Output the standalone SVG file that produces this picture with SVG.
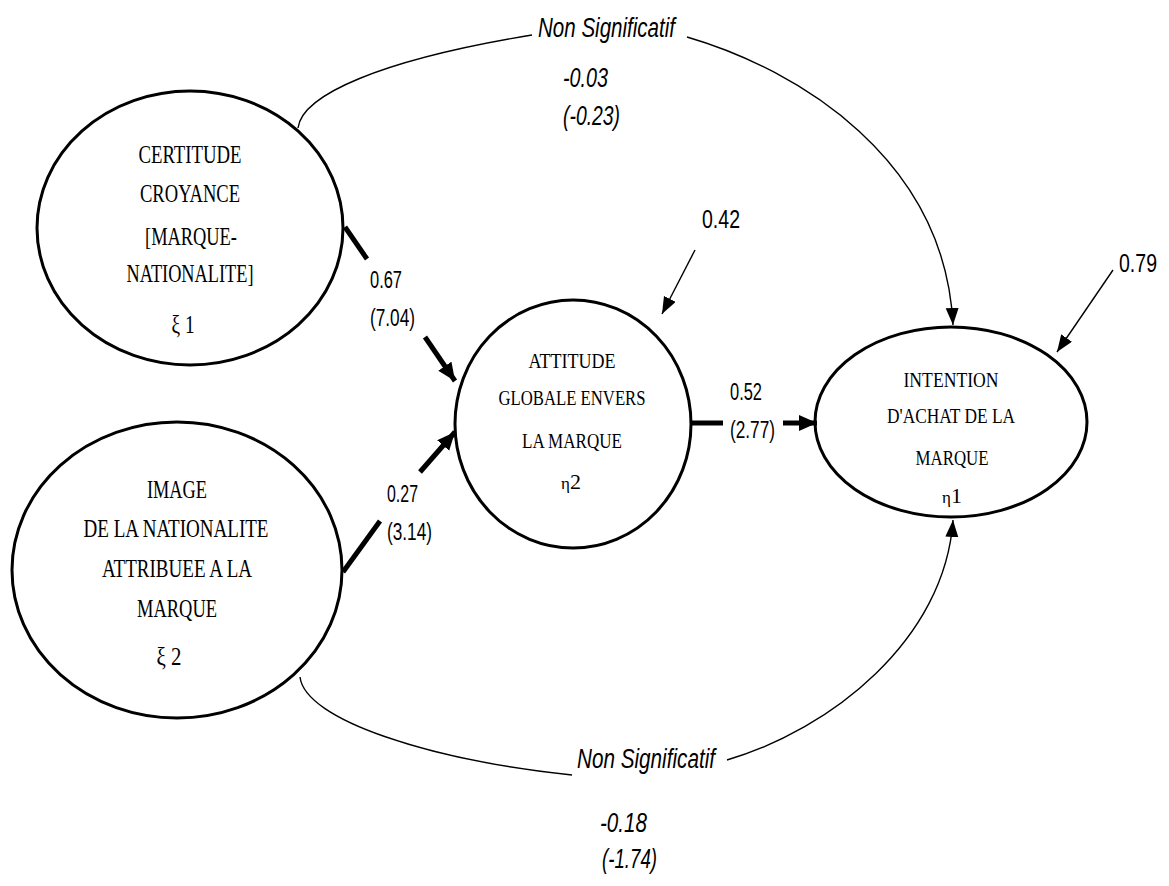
<svg xmlns="http://www.w3.org/2000/svg" width="1169" height="886" viewBox="0 0 1169 886">
<defs>
<style>
.node{fill:none;stroke:#000;stroke-width:3}
.lbl{font-family:"Liberation Serif","Times New Roman",serif;fill:#000}
.n1{font-size:25px}
.n3{font-size:22px}
.num{font-family:"Liberation Sans",Arial,sans-serif;font-size:23px;fill:#000}
.big{font-size:25px}
.it{font-family:"Liberation Sans",Arial,sans-serif;font-style:italic;font-size:27px;fill:#000}
.thick{fill:none;stroke:#000;stroke-width:5}
.thin{fill:none;stroke:#000;stroke-width:1.4}
</style>
<marker id="ah" markerUnits="userSpaceOnUse" markerWidth="20" markerHeight="18" refX="18" refY="8" orient="auto"><path d="M0,0 L18,8 L0,16 Z" fill="#000"/></marker>
<marker id="at" markerUnits="userSpaceOnUse" markerWidth="18" markerHeight="14" refX="17" refY="6.5" orient="auto"><path d="M0,0 L17,6.5 L0,13 Z" fill="#000"/></marker>
</defs>
<rect width="1169" height="886" fill="#fff"/>

<g id="connectors">
<path class="thin" d="M298,128 C302,95 380,60 532,35"/>
<path class="thin" d="M687,37 C800,70 945,160 953,325" marker-end="url(#at)"/>
<path class="thin" d="M300,677 C305,720 430,760 572,775"/>
<path class="thin" d="M727,760 C830,730 945,640 953,520" marker-end="url(#at)"/>
<path class="thick" d="M345,227 L367,259"/>
<path class="thick" d="M425,337 L455,381" marker-end="url(#ah)"/>
<path class="thick" d="M343,572 L380,521"/>
<path class="thick" d="M420,472 L455,432" marker-end="url(#ah)"/>
<path class="thick" d="M692,423 L723,423"/>
<path class="thick" d="M783,423 L817,423" marker-end="url(#ah)"/>
<path class="thin" d="M695,250 L662,314" marker-end="url(#at)"/>
<path class="thin" d="M1113,270 L1057,352" marker-end="url(#at)"/>
</g>

<g id="labels">
<text class="it" x="538" y="37" textLength="137" lengthAdjust="spacingAndGlyphs">Non Significatif</text>
<text class="it" x="563" y="87" textLength="45" lengthAdjust="spacingAndGlyphs">-0.03</text>
<text class="it" x="563" y="125" textLength="57" lengthAdjust="spacingAndGlyphs">(-0.23)</text>
<text class="it" x="577" y="768" textLength="138" lengthAdjust="spacingAndGlyphs">Non Significatif</text>
<text class="it" x="600" y="832" textLength="47" lengthAdjust="spacingAndGlyphs">-0.18</text>
<text class="it" x="602" y="868" textLength="55" lengthAdjust="spacingAndGlyphs">(-1.74)</text>
<text class="num" x="370" y="288" textLength="32" lengthAdjust="spacingAndGlyphs">0.67</text>
<text class="num" x="370" y="326" textLength="45" lengthAdjust="spacingAndGlyphs">(7.04)</text>
<text class="num" x="387" y="502" textLength="31" lengthAdjust="spacingAndGlyphs">0.27</text>
<text class="num" x="387" y="540" textLength="45" lengthAdjust="spacingAndGlyphs">(3.14)</text>
<text class="num" x="730" y="400" textLength="32" lengthAdjust="spacingAndGlyphs">0.52</text>
<text class="num" x="730" y="438" textLength="45" lengthAdjust="spacingAndGlyphs">(2.77)</text>
<text class="num big" x="702" y="228" textLength="38" lengthAdjust="spacingAndGlyphs">0.42</text>
<text class="num big" x="1119" y="272" textLength="38" lengthAdjust="spacingAndGlyphs">0.79</text>
</g>

<g id="node-certitude">
<ellipse class="node" cx="190" cy="228" rx="153" ry="137"/>
<text class="lbl n1" x="190" y="163" text-anchor="middle" textLength="103" lengthAdjust="spacingAndGlyphs">CERTITUDE</text>
<text class="lbl n1" x="190" y="202" text-anchor="middle" textLength="100" lengthAdjust="spacingAndGlyphs">CROYANCE</text>
<text class="lbl n1" x="191" y="245" text-anchor="middle" textLength="92" lengthAdjust="spacingAndGlyphs">[MARQUE-</text>
<text class="lbl n1" x="190" y="282" text-anchor="middle" textLength="127" lengthAdjust="spacingAndGlyphs">NATIONALITE]</text>
<text class="lbl n1" x="183" y="333" text-anchor="middle" textLength="23" lengthAdjust="spacingAndGlyphs">ξ 1</text>
</g>

<g id="node-image">
<ellipse class="node" cx="177" cy="570" rx="165" ry="148"/>
<text class="lbl n1" x="177" y="498" text-anchor="middle" textLength="60" lengthAdjust="spacingAndGlyphs">IMAGE</text>
<text class="lbl n1" x="176" y="537" text-anchor="middle" textLength="185" lengthAdjust="spacingAndGlyphs">DE LA NATIONALITE</text>
<text class="lbl n1" x="177" y="577" text-anchor="middle" textLength="150" lengthAdjust="spacingAndGlyphs">ATTRIBUEE A LA</text>
<text class="lbl n1" x="177" y="617" text-anchor="middle" textLength="80" lengthAdjust="spacingAndGlyphs">MARQUE</text>
<text class="lbl n1" x="169" y="665" text-anchor="middle" textLength="25" lengthAdjust="spacingAndGlyphs">ξ 2</text>
</g>

<g id="node-attitude">
<ellipse class="node" cx="573" cy="424" rx="118" ry="124"/>
<text class="lbl n3" x="572" y="368" text-anchor="middle" textLength="87" lengthAdjust="spacingAndGlyphs">ATTITUDE</text>
<text class="lbl n3" x="572" y="405" text-anchor="middle" textLength="147" lengthAdjust="spacingAndGlyphs">GLOBALE ENVERS</text>
<text class="lbl n3" x="572" y="448" text-anchor="middle" textLength="100" lengthAdjust="spacingAndGlyphs">LA MARQUE</text>
<text class="lbl n3" x="571" y="489" text-anchor="middle"><tspan font-size="17">η</tspan>2</text>
</g>

<g id="node-intention">
<ellipse class="node" cx="951" cy="422" rx="136" ry="95"/>
<text class="lbl n3" x="951" y="387" text-anchor="middle" textLength="95" lengthAdjust="spacingAndGlyphs">INTENTION</text>
<text class="lbl n3" x="951" y="423" text-anchor="middle" textLength="128" lengthAdjust="spacingAndGlyphs">D'ACHAT DE LA</text>
<text class="lbl n3" x="952" y="465" text-anchor="middle" textLength="73" lengthAdjust="spacingAndGlyphs">MARQUE</text>
<text class="lbl n3" x="952" y="503" text-anchor="middle"><tspan font-size="17">η</tspan>1</text>
</g>
</svg>
